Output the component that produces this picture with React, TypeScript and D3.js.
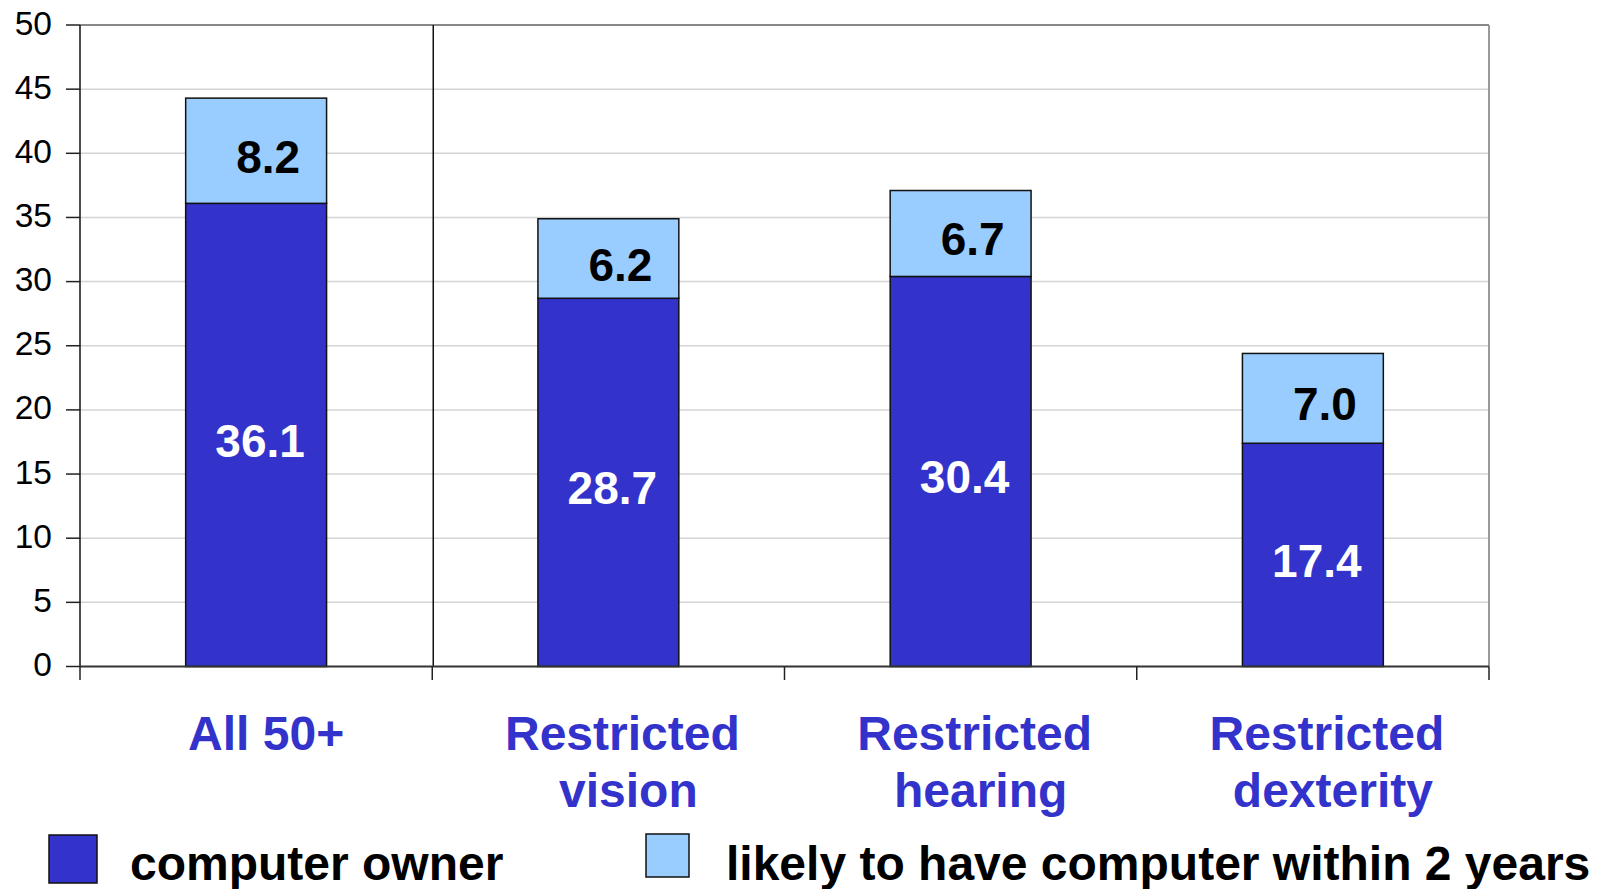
import React from "react";
import * as d3 from "d3";

const categories = ["All 50+", "Restricted vision", "Restricted hearing", "Restricted dexterity"];
const categoryLines = [["All 50+"], ["Restricted", "vision"], ["Restricted", "hearing"], ["Restricted", "dexterity"]];
const ownerValues = [36.1, 28.7, 30.4, 17.4];
const likelyValues = [8.2, 6.2, 6.7, 7.0];
const yTicks = [0, 5, 10, 15, 20, 25, 30, 35, 40, 45, 50];
const seriesNames = ["computer owner", "likely to have computer within 2 years"];
const seriesColors = ["#3333CC", "#99CCFF"];

const W = 1604;
const H = 889;
const left = 80;
const right = 1489;
const top = 25;
const bottom = 666.5;
const FONT = "'Liberation Sans', Arial, sans-serif";

export default function App() {
  const x = d3.scaleBand<string>().domain(categories).range([left, right]).paddingInner(0.6).paddingOuter(0.3);
  const y = d3.scaleLinear().domain([0, 50]).range([bottom, top]);
  const step = x.step();
  const boundaries = d3.range(categories.length + 1).map((i) => left + i * step);

  return (
    <svg width={W} height={H} style={{ position: "absolute", left: 0, top: 0, background: "#fff" }} fontFamily={FONT}>
      <rect x={0} y={0} width={W} height={H} fill="#fff" />
      {/* gridlines */}
      {yTicks.filter((t) => t > 0 && t < 50).map((t) => (
        <line key={"g" + t} x1={left} x2={right} y1={y(t)} y2={y(t)} stroke="#d4d4d4" strokeWidth={1.5} />
      ))}
      {/* top and right border */}
      <line x1={left} x2={right} y1={y(50)} y2={y(50)} stroke="#888" strokeWidth={2} />
      <line x1={right} x2={right} y1={y(50)} y2={bottom} stroke="#999" strokeWidth={2} />
      {/* divider */}
      <line x1={boundaries[1] + 1} x2={boundaries[1] + 1} y1={y(50)} y2={bottom} stroke="#111" strokeWidth={1.5} />
      {/* bars */}
      {categories.map((c, i) => {
        const x0 = x(c)!;
        const bw = x.bandwidth();
        const o = ownerValues[i];
        const l = likelyValues[i];
        return (
          <g key={c}>
            <rect x={x0} y={y(o)} width={bw} height={y(0) - y(o)} fill={seriesColors[0]} stroke="#111" strokeWidth={1.5} />
            <rect x={x0} y={y(o + l)} width={bw} height={y(o) - y(o + l)} fill={seriesColors[1]} stroke="#111" strokeWidth={1.5} />
            <text x={x0 + bw / 2 + 4} y={(y(o) + y(0)) / 2 + 22} textAnchor="middle" fill="#fff" fontWeight="bold" fontSize={46}>
              {o.toFixed(1)}
            </text>
            <text x={x0 + bw / 2 + 12} y={(y(o) + y(o + l)) / 2 + 22} textAnchor="middle" fill="#000" fontWeight="bold" fontSize={46}>
              {l.toFixed(1)}
            </text>
          </g>
        );
      })}
      {/* axes */}
      <line x1={left} x2={left} y1={y(50)} y2={bottom} stroke="#111" strokeWidth={1.5} />
      <line x1={left} x2={right} y1={bottom} y2={bottom} stroke="#333" strokeWidth={2} />
      {yTicks.map((t) => (
        <g key={"t" + t}>
          <line x1={66} x2={left} y1={y(t)} y2={y(t)} stroke="#222" strokeWidth={1.5} />
          <text x={52} y={y(t) + 9.5} textAnchor="end" fontSize={33.5} fill="#000">
            {t}
          </text>
        </g>
      ))}
      {boundaries.map((b, i) => (
        <line key={"b" + i} x1={b} x2={b} y1={bottom} y2={680} stroke="#222" strokeWidth={1.5} />
      ))}
      {/* category labels */}
      {categories.map((c, i) => (
        <text key={"c" + c} textAnchor="middle" fontSize={48} fontWeight="bold" fill="#3333CC">
          {categoryLines[i].map((ln, j) => (
            <tspan key={j} x={x(c)! + x.bandwidth() / 2 + (categoryLines[i].length > 1 ? (j === 0 ? 14 : 20) : 10)} y={750 + j * 57}>
              {ln}
            </tspan>
          ))}
        </text>
      ))}
      {/* legend */}
      <rect x={49} y={835} width={48} height={48} fill={seriesColors[0]} stroke="#111" strokeWidth={1.5} />
      <text x={130} y={880} fontSize={48} fontWeight="bold" fill="#000">{seriesNames[0]}</text>
      <rect x={646} y={834} width={43} height={43} fill={seriesColors[1]} stroke="#111" strokeWidth={1.5} />
      <text x={726} y={880} fontSize={48} fontWeight="bold" fill="#000">{seriesNames[1]}</text>
    </svg>
  );
}
